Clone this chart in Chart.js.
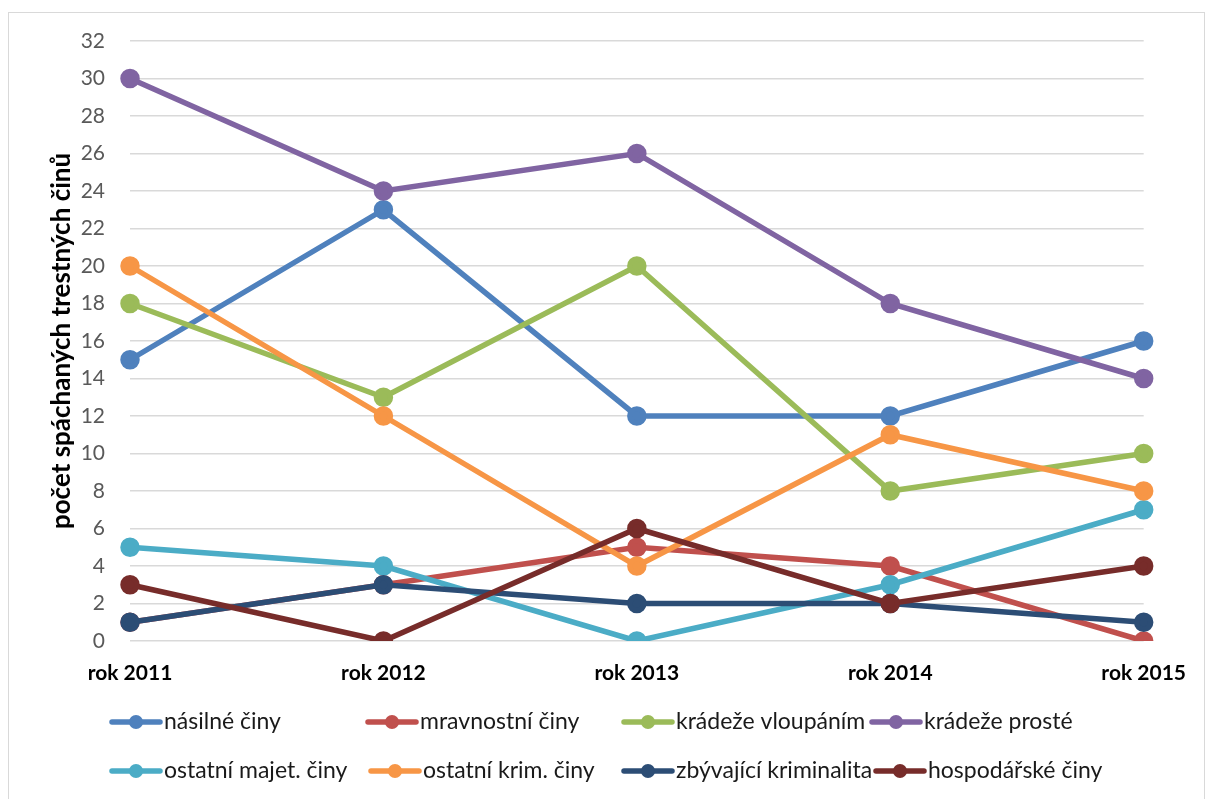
<!DOCTYPE html>
<html>
<head>
<meta charset="utf-8">
<script src="https://cdn.jsdelivr.net/npm/chart.js@4"></script>
<style>
html,body{margin:0;padding:0;background:#fff;}
#wrap{width:1206px;height:799px;position:relative;}
</style>
</head>
<body>
<div id="wrap"><canvas id="c" width="1206" height="799"></canvas></div>
<script>
const categories = ['rok 2011','rok 2012','rok 2013','rok 2014','rok 2015'];
const seriesNames = ['násilné činy','mravnostní činy','krádeže vloupáním','krádeže prosté','ostatní majet. činy','ostatní krim. činy','zbývající kriminalita','hospodářské činy'];
const nasilne      = [15, 23, 12, 12, 16];
const mravnostni   = [1, 3, 5, 4, 0];
const vloupanim    = [18, 13, 20, 8, 10];
const proste       = [30, 24, 26, 18, 14];
const majetkove    = [5, 4, 0, 3, 7];
const ostatniKrim  = [20, 12, 4, 11, 8];
const zbyvajici    = [1, 3, 2, 2, 1];
const hospodarske  = [3, 0, 6, 2, 4];
const seriesValues = [nasilne, mravnostni, vloupanim, proste, majetkove, ostatniKrim, zbyvajici, hospodarske];
const colors = ['#4F81BD','#C0504D','#9BBB59','#8064A2','#4BACC6','#F79646','#2C4D75','#772C2A'];
const yTitle = 'počet spáchaných trestných činů';

const legendPos = [[110,722],[366,722],[622,722],[870,722],[110,771],[369,771],[622,771],[874,771]];

const legendPlugin = {
  id:'customLegend',
  afterDraw(chart){
    const ctx = chart.ctx;
    ctx.save();
    ctx.strokeStyle = '#d9d9d9';
    ctx.lineWidth = 1;
    ctx.strokeRect(8.5, 12.5, 1196, 790);
    chart.data.datasets.forEach((ds,i)=>{
      const [x,y] = legendPos[i];
      ctx.strokeStyle = ds.borderColor;
      ctx.lineWidth = 5.5;
      ctx.lineCap = 'round';
      ctx.beginPath(); ctx.moveTo(x+2,y); ctx.lineTo(x+50,y); ctx.stroke();
      ctx.fillStyle = ds.borderColor;
      ctx.beginPath(); ctx.arc(x+26,y,7,0,Math.PI*2); ctx.fill();
      ctx.fillStyle = '#1a1a1a';
      ctx.font = '23px Lato, sans-serif';
      ctx.textBaseline = 'middle';
      ctx.textAlign = 'left';
      ctx.fillText(ds.label, x+54, y);
    });
    ctx.restore();
  }
};

new Chart(document.getElementById('c'), {
  type:'line',
  data:{
    labels: categories,
    datasets: seriesValues.map((v,i)=>({
      label: seriesNames[i],
      data: v,
      borderColor: colors[i],
      backgroundColor: colors[i],
      pointBackgroundColor: colors[i],
      pointBorderColor: colors[i],
      borderWidth: 5.5,
      pointRadius: 7,
      pointHoverRadius: 7,
      tension: 0,
      order: 10 - i
    }))
  },
  options:{
    responsive:false,
    animation:false,
    layout:{padding:{left:0,right:60,top:41,bottom:0}},
    plugins:{legend:{display:false},tooltip:{enabled:false}},
    scales:{
      x:{
        offset:false,
        grid:{display:false,drawTicks:false},
        border:{display:false},
        ticks:{color:'#000',font:{family:'Lato',size:21,weight:'bold'},padding:20,maxRotation:0},
        afterFit(s){ s.height = 158; }
      },
      y:{
        min:0,max:32,
        grid:{color:'#d9d9d9',lineWidth:1.5,drawTicks:false},
        border:{display:false},
        ticks:{stepSize:2,color:'#595959',font:{family:'Lato',size:21},padding:25},
        title:{display:true,text:yTitle,color:'#000',font:{family:'Lato',size:26,weight:'bold'},padding:{top:46,bottom:0}},
        afterFit(s){ s.width = 130; }
      }
    }
  },
  plugins:[legendPlugin]
});
</script>
</body>
</html>
